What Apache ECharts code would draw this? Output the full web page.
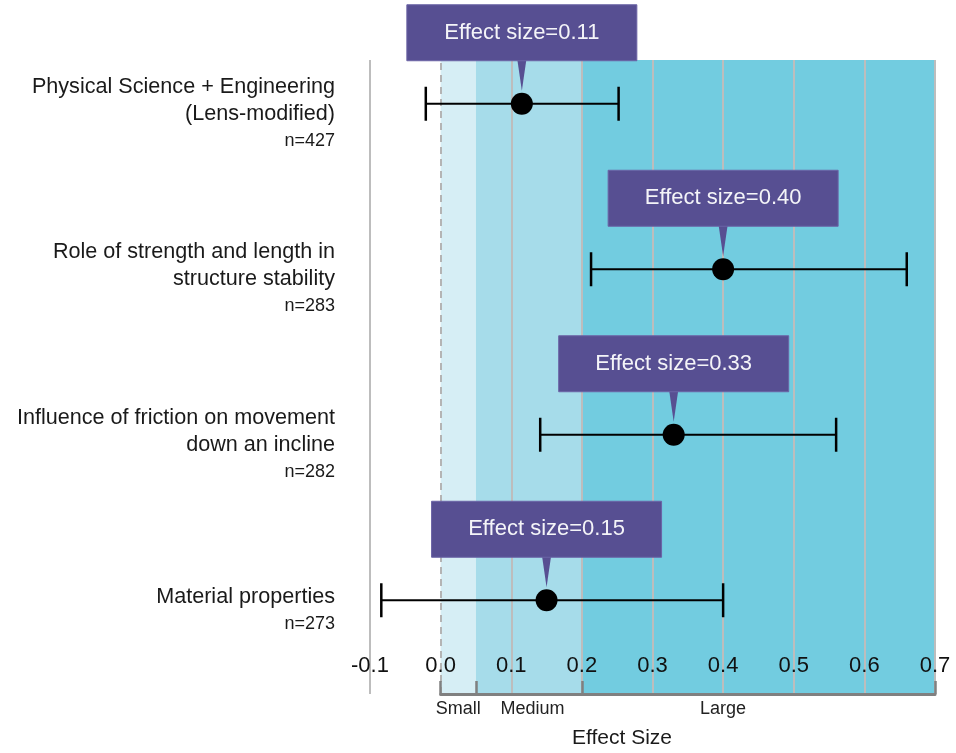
<!DOCTYPE html>
<html>
<head>
<meta charset="utf-8">
<script src="https://cdn.jsdelivr.net/npm/echarts@6/dist/echarts.min.js"></script>
<style>
html,body{margin:0;padding:0;background:#fff;}
#chart{width:956px;height:753px;}
</style>
</head>
<body>
<div id="chart"></div>
<script>
const categories = [
  'Physical Science + Engineering\n(Lens-modified)',
  'Role of strength and length in\nstructure stability',
  'Influence of friction on movement\ndown an incline',
  'Material properties'
];
const sampleSizes = ['n=427', 'n=283', 'n=282', 'n=273'];
const effectSizes = [0.115, 0.40, 0.33, 0.15];
const ciLow = [-0.021, 0.213, 0.141, -0.084];
const ciHigh = [0.252, 0.660, 0.560, 0.400];
const effectLabels = ['Effect size=0.11', 'Effect size=0.40', 'Effect size=0.33', 'Effect size=0.15'];
const xMin = -0.1, xMax = 0.7, xStep = 0.1;
const gridValues = [-0.1, 0, 0.1, 0.2, 0.3, 0.4, 0.5, 0.6, 0.7];
const bandNames = ['Small', 'Medium', 'Large'];
const bandEdges = [0, 0.05, 0.2, 0.7];
const bandLabelAt = [0.025, 0.13, 0.4];
const bandColors = ['#d6eef5', '#a6dcea', '#72cce0'];

const FONT = 'Liberation Sans, Arial, Helvetica, sans-serif';
const chart = echarts.init(document.getElementById('chart'));

const richLabel = (v, i) => {
  const lines = v.split('\n').map(s => '{t|' + s + '}');
  return lines.join('\n') + '\n{n|' + sampleSizes[i] + '}';
};

const bandAreas = bandNames.map((n, i) => [
  { xAxis: bandEdges[i], itemStyle: { color: bandColors[i] } },
  { xAxis: bandEdges[i + 1] }
]);
const gridLines = gridValues.map(v => ({
  xAxis: v,
  lineStyle: v === 0
    ? { color: '#b4b4b4', width: 2, type: [7, 5] }
    : { color: '#bdbdbd', width: 2, type: 'solid' }
}));

const option = {
  animation: false,
  textStyle: { fontFamily: FONT },
  grid: [
    { left: 370, right: 21, top: 60, bottom: 59 },
    { left: 370, right: 21, top: 21, bottom: 70 },
    { left: 440.6, right: 21, top: 60, bottom: 59 }
  ],
  xAxis: [
    {
      gridIndex: 0, type: 'value', min: xMin, max: xMax, interval: xStep, z: 6,
      axisLine: { show: false }, axisTick: { show: false }, splitLine: { show: false },
      axisLabel: {
        inside: true, margin: 17, fontSize: 22, color: '#111', fontFamily: FONT,
        showMinLabel: true, showMaxLabel: true,
        formatter: v => v.toFixed(1)
      }
    },
    {
      gridIndex: 1, type: 'value', min: xMin, max: xMax,
      show: false
    },
    {
      gridIndex: 2, type: 'value', min: bandEdges[0], max: bandEdges[bandEdges.length - 1], z: 6,
      axisLine: { show: true, lineStyle: { color: '#808080', width: 3 } },
      axisTick: { show: true, inside: true, length: 13, customValues: bandEdges,
        lineStyle: { color: '#808080', width: 2.5 } },
      splitLine: { show: false },
      axisLabel: {
        customValues: bandLabelAt, margin: 6, fontSize: 18, color: '#222', fontFamily: FONT,
        formatter: v => {
          let k = 0, best = Infinity;
          bandLabelAt.forEach((p, i) => { if (Math.abs(p - v) < best) { best = Math.abs(p - v); k = i; } });
          return bandNames[k];
        }
      }
    }
  ],
  yAxis: [
    { gridIndex: 0, type: 'value', min: 0, max: 1, show: false },
    {
      gridIndex: 1, type: 'category', data: categories, inverse: true,
      axisLine: { show: false }, axisTick: { show: false }, splitLine: { show: false },
      axisLabel: {
        margin: 35, align: 'right', padding: [20, 0, 0, 0],
        formatter: richLabel,
        rich: {
          t: { fontSize: 21.6, lineHeight: 27, color: '#1a1a1a', fontFamily: FONT, align: 'right' },
          n: { fontSize: 18, lineHeight: 27, color: '#1a1a1a', fontFamily: FONT, align: 'right' }
        }
      }
    },
    { gridIndex: 2, type: 'value', min: 0, max: 1, show: false }
  ],
  graphic: [
    {
      type: 'text', x: 622, y: 738, silent: true,
      style: { text: 'Effect Size', fontSize: 21, fontFamily: FONT, fill: '#1a1a1a',
        textAlign: 'center', textVerticalAlign: 'middle' }
    }
  ],
  series: [
    {
      type: 'line', xAxisIndex: 0, yAxisIndex: 0, data: [], silent: true, z: 0,
      markArea: { silent: true, z: 0, data: bandAreas },
      markLine: { silent: true, z: 1, symbol: ['none', 'none'], label: { show: false }, data: gridLines }
    },
    {
      type: 'line', xAxisIndex: 2, yAxisIndex: 2, data: [], silent: true
    },
    {
      type: 'custom', xAxisIndex: 1, yAxisIndex: 1, z: 10, silent: true,
      data: effectSizes.map((v, i) => [v, i, ciLow[i], ciHigh[i]]),
      encode: { x: [0, 2, 3], y: 1 },
      renderItem: (params, api) => {
        const c = api.value(1);
        const y = api.coord([api.value(0), c])[1];
        const x1 = api.coord([api.value(2), c])[0];
        const x2 = api.coord([api.value(3), c])[0];
        const st = { stroke: '#000', lineWidth: 2 };
        return {
          type: 'group', children: [
            { type: 'line', shape: { x1: x1, y1: y, x2: x2, y2: y }, style: st },
            { type: 'line', shape: { x1: x1, y1: y - 17, x2: x1, y2: y + 17 }, style: { stroke: '#000', lineWidth: 2.5 } },
            { type: 'line', shape: { x1: x2, y1: y - 17, x2: x2, y2: y + 17 }, style: { stroke: '#000', lineWidth: 2.5 } }
          ]
        };
      }
    },
    {
      type: 'scatter', xAxisIndex: 1, yAxisIndex: 1, z: 11, silent: true,
      symbol: 'circle', symbolSize: 22, itemStyle: { color: '#000', opacity: 1 },
      data: effectSizes.map((v, i) => [v, i])
    },
    {
      type: 'custom', xAxisIndex: 1, yAxisIndex: 1, z: 12, silent: true,
      data: effectSizes.map((v, i) => [v, i]),
      encode: { x: 0, y: 1 },
      renderItem: (params, api) => {
        const p = api.coord([api.value(0), api.value(1)]);
        const w = 230, h = 56, gap = 43;
        const bottom = p[1] - gap;
        return {
          type: 'group', children: [
            { type: 'polygon', shape: { points: [[p[0] - 4.5, bottom - 1], [p[0] + 4.5, bottom - 1], [p[0], p[1] - 13]] },
              style: { fill: '#574f92' } },
            { type: 'rect', shape: { x: p[0] - w / 2, y: bottom - h, width: w, height: h },
              style: { fill: '#574f92', stroke: '#6b64a6', lineWidth: 1 } },
            { type: 'text', x: p[0], y: bottom - h / 2,
              style: { text: effectLabels[params.dataIndex], fontSize: 22, fontFamily: FONT, fill: '#f4f4f8',
                textAlign: 'center', textVerticalAlign: 'middle' } }
          ]
        };
      }
    }
  ]
};
chart.setOption(option);
</script>
</body>
</html>
